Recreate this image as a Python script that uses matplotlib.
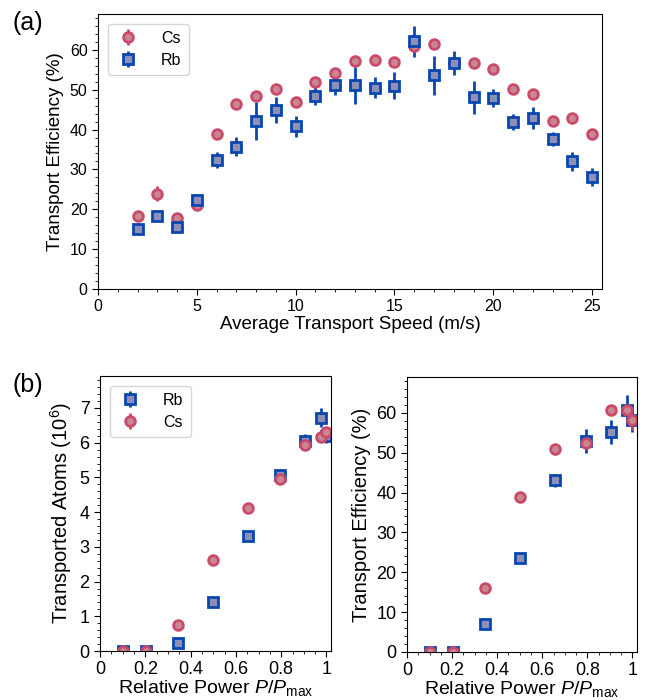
import numpy as np
import matplotlib
matplotlib.use("Agg")
import matplotlib.pyplot as plt
from matplotlib.ticker import MultipleLocator, FuncFormatter

plt.rcParams['font.family'] = ['Liberation Sans', 'DejaVu Sans']
plt.rcParams['mathtext.fontset'] = 'custom'
plt.rcParams['mathtext.it'] = 'Liberation Sans:italic'
plt.rcParams['mathtext.rm'] = 'Liberation Sans'

# (a) efficiency vs transport speed
speed = [2, 3, 4, 5, 6, 7, 8, 9, 10, 11, 12, 13, 14, 15, 16, 17, 18, 19, 20, 21, 22, 23, 24, 25]
cs_eff = [18.4, 23.9, 17.7, 21.2, 39.0, 46.3, 48.4, 50.2, 46.9, 51.9, 54.1, 57.3,
          57.5, 57.0, 60.9, 61.4, 56.6, 56.8, 55.3, 50.3, 49.0, 42.2, 42.8, 38.9]
cs_err = [0.7, 1.9, 0.6, 0.6, 0.7, 0.6, 0.7, 0.9, 0.7, 0.7, 0.7, 0.7,
          0.6, 0.6, 0.8, 0.7, 0.7, 0.6, 0.6, 0.6, 0.6, 0.6, 0.6, 0.6]
rb_eff = [15.0, 18.3, 15.6, 22.3, 32.4, 35.7, 42.2, 44.9, 40.8, 48.5, 51.1, 51.1,
          50.5, 51.0, 62.2, 53.6, 56.8, 48.1, 47.9, 41.9, 42.9, 37.7, 32.0, 28.1]
rb_err = [0.6, 0.7, 0.6, 0.8, 2.0, 2.4, 4.7, 3.2, 2.7, 2.4, 2.5, 4.6,
          2.6, 3.4, 3.9, 4.9, 3.0, 4.1, 2.2, 1.9, 2.7, 1.7, 2.4, 2.2]

# (b) vs relative power
power = [0.1, 0.205, 0.345, 0.5, 0.655, 0.795, 0.905, 0.975, 1.0]
rb_atoms = [0.0, 0.0, 0.22, 1.42, 3.30, 5.08, 6.04, 6.72, 6.20]
rb_atoms_err = [0.03, 0.03, 0.05, 0.06, 0.08, 0.17, 0.22, 0.27, 0.22]
cs_atoms = [0.0, 0.0, 0.75, 2.63, 4.13, 4.95, 5.93, 6.17, 6.30]
cs_atoms_err = [0.02, 0.02, 0.04, 0.05, 0.06, 0.08, 0.1, 0.08, 0.08]
rb_peff = [0.0, 0.0, 7.1, 23.5, 43.1, 53.0, 55.2, 60.7, 58.3]
rb_peff_err = [0.3, 0.3, 0.5, 1.2, 1.6, 3.0, 3.0, 3.8, 3.0]
cs_peff = [0.0, 0.0, 16.0, 38.9, 50.9, 52.5, 60.8, 60.7, 58.1]
cs_peff_err = [0.2, 0.2, 0.4, 0.6, 1.4, 1.0, 0.7, 0.8, 2.5]

cs_style = dict(fmt='o', color='#c94a6a', mfc='#c98790', mec='#c94a6a',
                ms=7, mew=2, elinewidth=2, capsize=0, label='Cs')
rb_style = dict(fmt='s', color='#0a46b0', mfc='#8e8fb8', mec='#0a46b0',
                ms=7.5, mew=2, elinewidth=2, capsize=0, label='Rb')

fig = plt.figure(figsize=(6.49, 7.0), dpi=100)
W, H = 649, 700
def box(l, t, r, b):
    return [l / W, 1 - b / H, (r - l) / W, (b - t) / H]

def style(ax, size):
    ax.tick_params(which='both', direction='out', labelsize=size, top=False, right=False)
    ax.tick_params(which='major', length=4.5, pad=3)
    ax.tick_params(which='minor', length=2.5)

leg_kw = dict(loc='upper left', fontsize=11.5, handletextpad=1.3, borderpad=0.45,
              labelspacing=0.45, handlelength=1.6, borderaxespad=0.6)

ax1 = fig.add_axes(box(98, 14, 602, 289))
ax1.errorbar(speed, cs_eff, yerr=cs_err, **cs_style)
ax1.errorbar(speed, rb_eff, yerr=rb_err, **rb_style)
ax1.set_xlim(0, 25.5)
ax1.set_ylim(0, 69)
ax1.xaxis.set_major_locator(MultipleLocator(5))
ax1.xaxis.set_minor_locator(MultipleLocator(1))
ax1.yaxis.set_major_locator(MultipleLocator(10))
ax1.yaxis.set_minor_locator(MultipleLocator(2))
ax1.set_xlabel('Average Transport Speed (m/s)', fontsize=13.5, labelpad=1)
ax1.set_ylabel('Transport Efficiency (%)', fontsize=13.5)
style(ax1, 11.5)
ax1.legend(**leg_kw)
fig.text(12 / W, 1 - 23 / H, '(a)', fontsize=18, va='center')

fmt = FuncFormatter(lambda v, p: '%g' % round(v, 2))

ax2 = fig.add_axes(box(100, 376, 331, 651))
ax2.errorbar(power, rb_atoms, yerr=rb_atoms_err, **rb_style)
ax2.errorbar(power, cs_atoms, yerr=cs_atoms_err, **cs_style)
ax2.set_xlim(0, 1.02)
ax2.set_ylim(0, 7.92)
ax2.xaxis.set_major_locator(MultipleLocator(0.2))
ax2.xaxis.set_minor_locator(MultipleLocator(0.05))
ax2.xaxis.set_major_formatter(fmt)
ax2.yaxis.set_major_locator(MultipleLocator(1))
ax2.yaxis.set_minor_locator(MultipleLocator(0.2))
ax2.set_xlabel('Relative Power $P/P_{\\rm max}$', fontsize=14, labelpad=0)
ax2.set_ylabel('Transported Atoms ($10^6$)', fontsize=14.5)
style(ax2, 13)
ax2.legend(**leg_kw)
fig.text(12 / W, 1 - 385 / H, '(b)', fontsize=18, va='center')

ax3 = fig.add_axes(box(407, 377, 637, 652))
ax3.errorbar(power, rb_peff, yerr=rb_peff_err, **rb_style)
ax3.errorbar(power, cs_peff, yerr=cs_peff_err, **cs_style)
ax3.set_xlim(0, 1.02)
ax3.set_ylim(0, 69)
ax3.xaxis.set_major_locator(MultipleLocator(0.2))
ax3.xaxis.set_minor_locator(MultipleLocator(0.05))
ax3.xaxis.set_major_formatter(fmt)
ax3.yaxis.set_major_locator(MultipleLocator(10))
ax3.yaxis.set_minor_locator(MultipleLocator(2))
ax3.set_xlabel('Relative Power $P/P_{\\rm max}$', fontsize=14, labelpad=0)
ax3.set_ylabel('Transport Efficiency (%)', fontsize=14.5)
style(ax3, 13)

fig.savefig('out.png', dpi=100)
